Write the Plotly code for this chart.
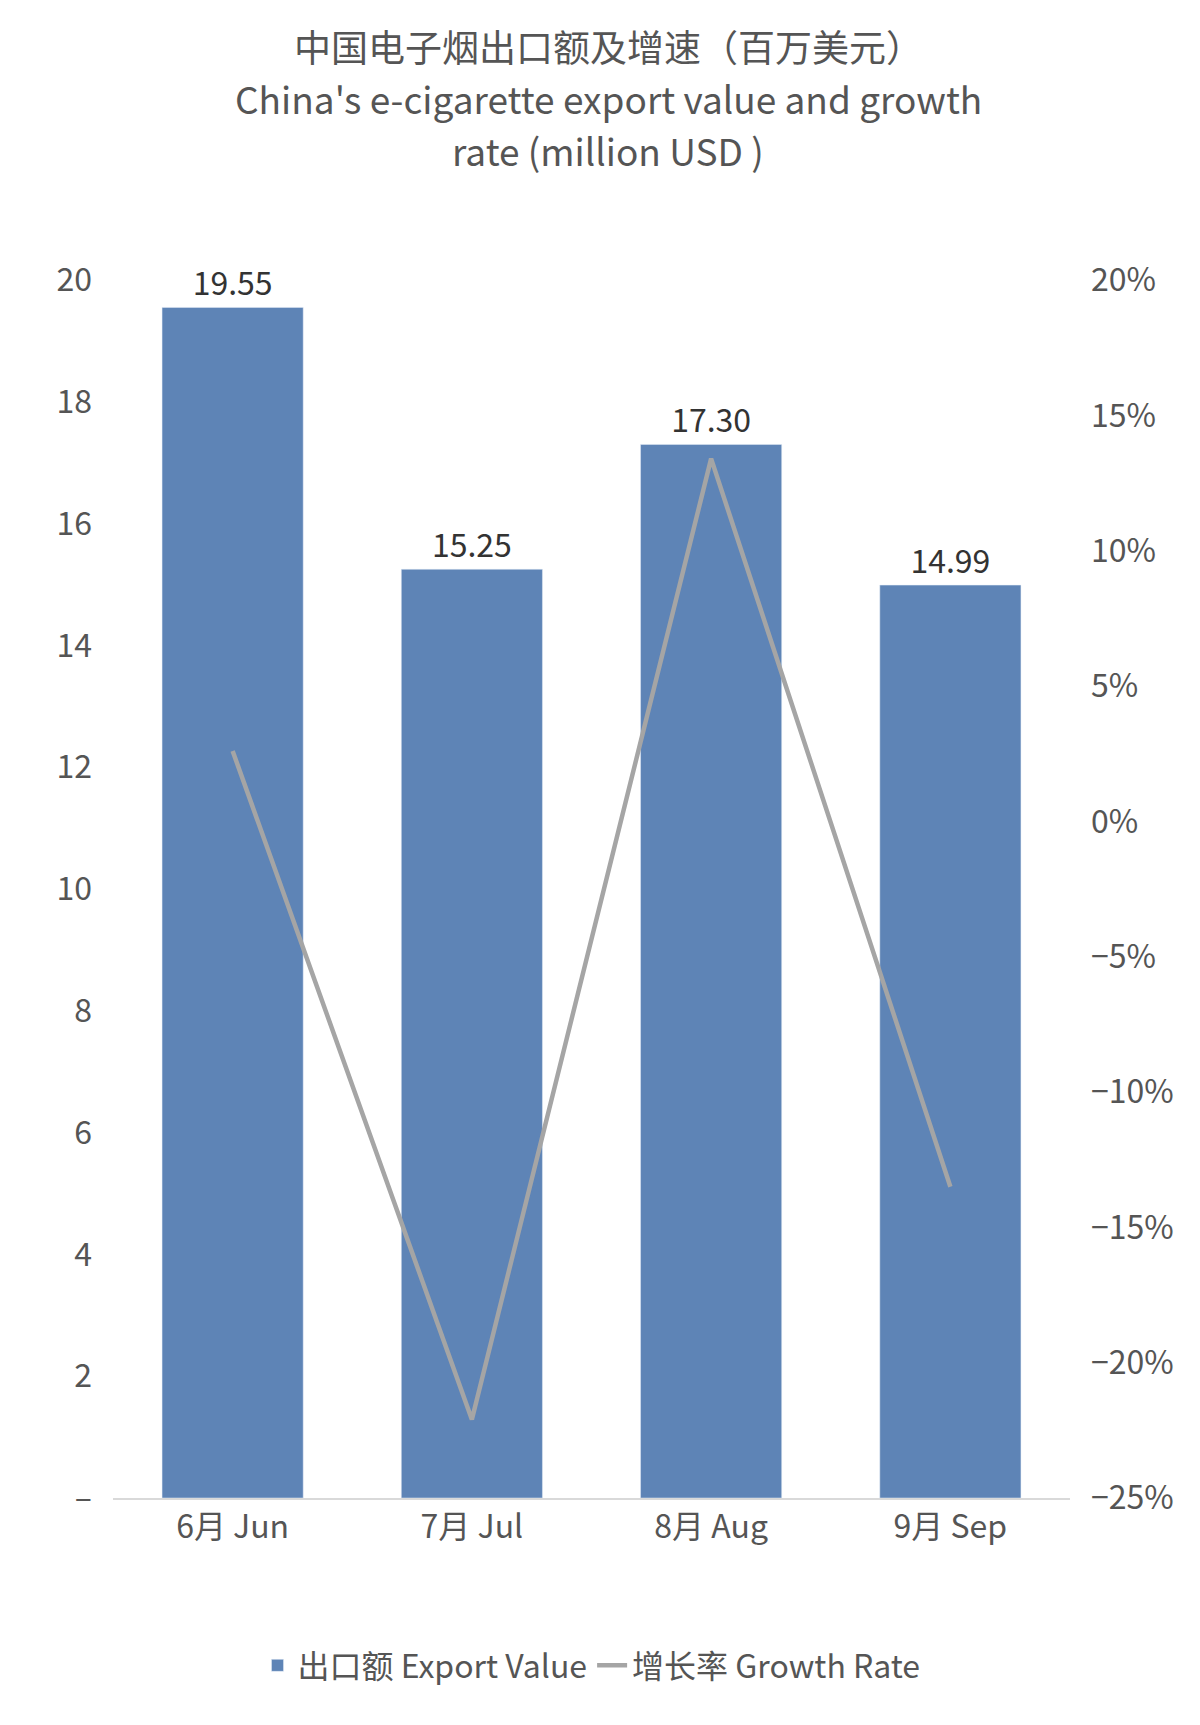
import plotly.graph_objects as go

categories = ["6月 Jun", "7月 Jul", "8月 Aug", "9月 Sep"]
export_value = [19.55, 15.25, 17.30, 14.99]
growth_rate = [2.6, -22.1, 13.4, -13.5]
left_ticks = [0, 2, 4, 6, 8, 10, 12, 14, 16, 18, 20]
left_labels = ["–"] + [str(v) for v in left_ticks[1:]]
right_ticks = [-25, -20, -15, -10, -5, 0, 5, 10, 15, 20]
right_labels = [("−%d%%" % -v) if v < 0 else "%d%%" % v for v in right_ticks]
title_lines = ["中国电子烟出口额及增速（百万美元）",
               "China's e-cigarette export value and growth",
               "rate (million USD )"]

font = "Noto Sans CJK SC"
W, H, T, B, L, R = 1200, 1725, 272, 235, 105, 138
fig = go.Figure()
fig.add_bar(x=categories, y=export_value, name="出口额 Export Value",
            marker_color="#5e84b6", width=0.59,
            text=["%.2f" % v for v in export_value], textposition="outside",
            textfont=dict(size=32, color="#333"), cliponaxis=False)
fig.add_scatter(x=categories, y=growth_rate, yaxis="y2", mode="lines",
                name="增长率 Growth Rate", line=dict(color="#a5a5a5", width=4.5))
plot_h = H - T - B
plot_w = W - L - R
for i, line in enumerate(title_lines):
    px = 38 + i * 52
    fig.add_annotation(text=line, xref="paper", yref="paper", x=(W / 2 - L) / plot_w,
                       y=(H - B - px) / plot_h, showarrow=False,
                       font=dict(size=37, color="#555"), yanchor="middle")
fig.update_layout(
    width=W, height=H, paper_bgcolor="white", plot_bgcolor="white",
    font=dict(family=font, size=32, color="#555"),
    margin=dict(l=L, r=R, t=T, b=B),
    xaxis=dict(showline=True, linecolor="#d9d9d9", linewidth=1.5, tickfont=dict(size=32, color="#555"), ticks=""),
    yaxis=dict(range=[0, 20], tickvals=left_ticks, ticktext=left_labels, showgrid=False,
               zeroline=False, ticklabelstandoff=20),
    yaxis2=dict(range=[-25, 20], tickvals=right_ticks, ticktext=right_labels, overlaying="y",
                side="right", showgrid=False, zeroline=False, ticklabelstandoff=20),
    bargap=0.41,
    legend=dict(orientation="h", x=0.5, xanchor="center", y=-0.115, yanchor="top",
                font=dict(size=32, color="#555")),
    showlegend=True,
)
fig.write_html("out.html")
